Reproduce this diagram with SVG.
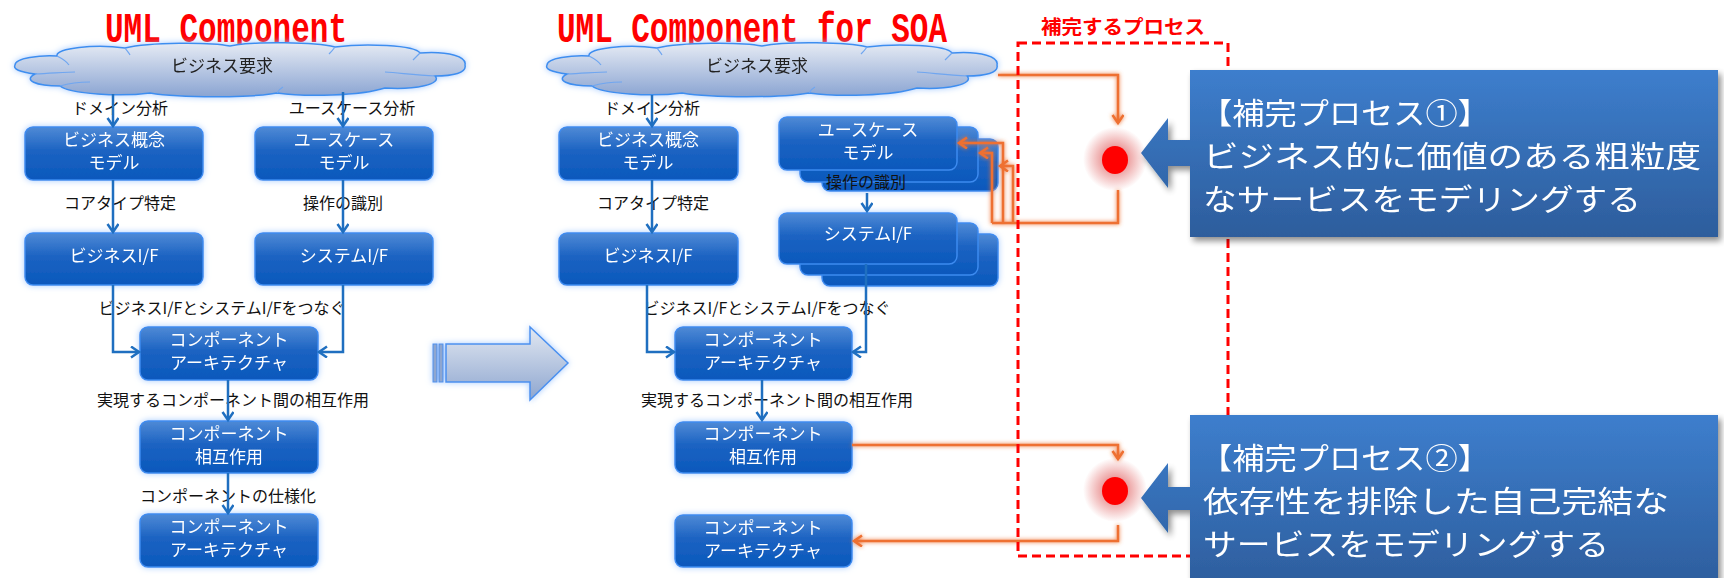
<svg xmlns="http://www.w3.org/2000/svg" xmlns:xlink="http://www.w3.org/1999/xlink" width="1724" height="578" viewBox="0 0 1724 578">
<defs>
<style>
.title{font-family:"Liberation Mono","DejaVu Sans Mono",monospace;font-weight:bold;font-size:31px;fill:#ff0000}
.bx{fill:url(#boxg);stroke:#3d8bf0;stroke-width:1.5}
.bt{font-family:"Noto Sans CJK JP","Noto Sans",sans-serif;font-size:17px;fill:#ffffff;text-anchor:middle}
.lb{font-family:"Noto Sans CJK JP","Noto Sans",sans-serif;font-size:16px;fill:#111111;text-anchor:middle}
.ct{font-family:"Noto Sans CJK JP","Noto Sans",sans-serif;font-size:17px;fill:#222222;text-anchor:middle}
.bl{fill:none;stroke:#1f6fc0;stroke-width:2.5}
.or{fill:none;stroke:#ee7030;stroke-width:2.5}
.cl{fill:url(#cloudg);stroke:#3d8ef0;stroke-width:1.5}
.cli{fill:none;stroke:#6fa6f0;stroke-width:1.2}
.co{font-family:"Noto Sans CJK JP","Noto Sans",sans-serif;font-size:29.5px;fill:#ffffff}
.cob{fill:url(#calg)}
</style>
<linearGradient id="boxg" x1="0" y1="0" x2="0" y2="1">
<stop offset="0" stop-color="#4f8ad6"/>
<stop offset="0.45" stop-color="#1c63c2"/>
<stop offset="1" stop-color="#0a58bc"/>
</linearGradient>
<linearGradient id="cloudg" x1="0" y1="0" x2="0" y2="1">
<stop offset="0" stop-color="#e6ebf4"/>
<stop offset="1" stop-color="#8aa4d2"/>
</linearGradient>
<linearGradient id="arrg" x1="0" y1="0" x2="0" y2="1">
<stop offset="0" stop-color="#e2e8f2"/>
<stop offset="1" stop-color="#8ea6cf"/>
</linearGradient>
<linearGradient id="calg" x1="0" y1="0" x2="0" y2="1">
<stop offset="0" stop-color="#3d7ecd"/>
<stop offset="1" stop-color="#2d5d9c"/>
</linearGradient>
<radialGradient id="dotglow">
<stop offset="0.3" stop-color="#e06060" stop-opacity="0.7"/>
<stop offset="1" stop-color="#e06060" stop-opacity="0"/>
</radialGradient>
<filter id="glow" x="-15%" y="-30%" width="130%" height="160%">
<feGaussianBlur in="SourceAlpha" stdDeviation="3" result="b"/>
<feFlood flood-color="#9cc6ff" flood-opacity="0.9"/>
<feComposite in2="b" operator="in" result="g"/>
<feMerge><feMergeNode in="g"/><feMergeNode in="SourceGraphic"/></feMerge>
</filter>
<filter id="oglow" x="-20%" y="-20%" width="140%" height="140%">
<feGaussianBlur in="SourceGraphic" stdDeviation="2" result="b"/>
<feMerge><feMergeNode in="b"/><feMergeNode in="SourceGraphic"/></feMerge>
</filter>
<filter id="shadow" x="-5%" y="-10%" width="115%" height="130%">
<feGaussianBlur in="SourceAlpha" stdDeviation="3" result="b"/>
<feOffset dx="3" dy="4" result="o"/>
<feComponentTransfer><feFuncA type="linear" slope="0.45"/></feComponentTransfer>
<feMerge><feMergeNode/><feMergeNode in="SourceGraphic"/></feMerge>
</filter>
<marker id="ab" markerUnits="userSpaceOnUse" markerWidth="14" markerHeight="14" refX="9" refY="6" orient="auto">
<path d="M1,0.5 L9,6 L1,11.5" fill="none" stroke="#1f6fc0" stroke-width="2.5"/>
</marker>
<marker id="ao" markerUnits="userSpaceOnUse" markerWidth="14" markerHeight="14" refX="9" refY="6" orient="auto">
<path d="M1,0.5 L9,6 L1,11.5" fill="none" stroke="#ee7030" stroke-width="2.5"/>
</marker>
<g id="cloudshape">
<path class="cl" d="M0,20 C0,13 25,10 42,11 C40,3 80,-1 110,3 C135,-3 195,-3 215,1 C240,-4 300,-3 320,2 C350,-2 400,0 405,8 C435,6 452,12 450,20 C452,28 438,31 420,31 C428,39 400,45 370,43 C345,51 290,52 262,48 C235,53 165,53 135,48 C105,52 55,49 45,41 C20,41 8,35 20,29 C4,27 -2,24 0,20 Z"/>
<path class="cli" d="M42,11 C48,14 52,17 54,20 M20,29 C40,28 55,27 60,27 M110,3 C112,6 114,8 115,10 M320,2 C318,5 316,7 314,9 M405,8 C402,11 400,13 398,15 M420,31 C400,30 385,28 370,27 M45,41 C55,38 65,37 75,37 M262,48 C264,45 266,43 268,42"/>
</g>
</defs>

<rect width="1724" height="578" fill="#ffffff"/>

<!-- titles -->
<text class="title" transform="translate(105,42) scale(1,1.4)" x="0" y="0" textLength="242" lengthAdjust="spacingAndGlyphs">UML Component</text>
<text class="title" transform="translate(557,42) scale(1,1.4)" x="0" y="0" textLength="390" lengthAdjust="spacingAndGlyphs">UML Component for SOA</text>

<!-- left diagram -->
<g id="cloud1" filter="url(#glow)">
<use xlink:href="#cloudshape" transform="translate(15,45)"/>
<text class="ct" x="222" y="72">ビジネス要求</text>
</g>
<g id="lbl-domain1"><text class="lb" x="120" y="114">ドメイン分析</text></g>
<g id="lbl-usecase1"><text class="lb" x="352" y="114">ユースケース分析</text></g>
<g id="bizconcept1" filter="url(#glow)">
<rect class="bx" x="25" y="127" width="178" height="53" rx="8"/>
<text class="bt" x="114" y="146">ビジネス概念</text>
<text class="bt" x="114" y="169">モデル</text>
</g>
<g id="usecase1" filter="url(#glow)">
<rect class="bx" x="255" y="127" width="178" height="53" rx="8"/>
<text class="bt" x="344" y="146">ユースケース</text>
<text class="bt" x="344" y="169">モデル</text>
</g>
<g id="lbl-core1"><text class="lb" x="120" y="209">コアタイプ特定</text></g>
<g id="lbl-op1"><text class="lb" x="343" y="209">操作の識別</text></g>
<g id="bizif1" filter="url(#glow)">
<rect class="bx" x="25" y="233" width="178" height="52" rx="8"/>
<text class="bt" x="114" y="262">ビジネスI/F</text>
</g>
<g id="sysif1" filter="url(#glow)">
<rect class="bx" x="255" y="233" width="178" height="52" rx="8"/>
<text class="bt" x="344" y="262">システムI/F</text>
</g>
<g id="lbl-connect1"><text class="lb" x="222" y="314">ビジネスI/FとシステムI/Fをつなぐ</text></g>
<g id="comparch1" filter="url(#glow)">
<rect class="bx" x="140" y="327" width="178" height="53" rx="8"/>
<text class="bt" x="229" y="346">コンポーネント</text>
<text class="bt" x="229" y="369">アーキテクチャ</text>
</g>
<g id="lbl-interact1"><text class="lb" x="233" y="406">実現するコンポーネント間の相互作用</text></g>
<g id="compint1" filter="url(#glow)">
<rect class="bx" x="140" y="421" width="178" height="52" rx="8"/>
<text class="bt" x="229" y="440">コンポーネント</text>
<text class="bt" x="229" y="463">相互作用</text>
</g>
<g id="lbl-spec1"><text class="lb" x="228" y="502">コンポーネントの仕様化</text></g>
<g id="comparch1b" filter="url(#glow)">
<rect class="bx" x="140" y="514" width="178" height="53" rx="8"/>
<text class="bt" x="229" y="533">コンポーネント</text>
<text class="bt" x="229" y="556">アーキテクチャ</text>
</g>

<!-- big arrow -->
<g id="bigarrow" filter="url(#glow)">
<path d="M446,344 H530 V327 L568,363 L530,400 V382 H446 Z" fill="url(#arrg)" stroke="#4a90f0" stroke-width="1.5"/>
<rect x="433" y="344" width="4" height="38" fill="#8ea6cf" stroke="#4a90f0" stroke-width="1"/>
<rect x="439" y="344" width="4" height="38" fill="#8ea6cf" stroke="#4a90f0" stroke-width="1"/>
</g>

<!-- SOA diagram -->
<g id="cloud2" filter="url(#glow)">
<use xlink:href="#cloudshape" transform="translate(547,45)"/>
<text class="ct" x="757" y="72">ビジネス要求</text>
</g>
<g id="lbl-domain2"><text class="lb" x="652" y="114">ドメイン分析</text></g>
<g id="bizconcept2" filter="url(#glow)">
<rect class="bx" x="559" y="127" width="179" height="53" rx="8"/>
<text class="bt" x="648" y="146">ビジネス概念</text>
<text class="bt" x="648" y="169">モデル</text>
</g>
<g id="usecase2" filter="url(#glow)">
<rect class="bx" x="822" y="139" width="176" height="52" rx="8"/>
<rect class="bx" x="800" y="127" width="178" height="55" rx="8"/>
<rect class="bx" x="779" y="117" width="178" height="53" rx="8"/>
<text class="bt" x="868" y="136">ユースケース</text>
<text class="bt" x="868" y="159">モデル</text>
</g>
<g id="lbl-core2"><text class="lb" x="653" y="209">コアタイプ特定</text></g>
<g id="bizif2" filter="url(#glow)">
<rect class="bx" x="559" y="233" width="179" height="52" rx="8"/>
<text class="bt" x="648" y="262">ビジネスI/F</text>
</g>
<g id="sysif2" filter="url(#glow)">
<rect class="bx" x="822" y="234" width="176" height="52" rx="8"/>
<rect class="bx" x="800" y="223" width="178" height="52" rx="8"/>
<rect class="bx" x="779" y="213" width="178" height="51" rx="8"/>
<text class="bt" x="868" y="240">システムI/F</text>
</g>
<g id="lbl-op2"><text class="lb" x="866" y="188">操作の識別</text></g>
<g id="lbl-connect2"><text class="lb" x="767" y="314">ビジネスI/FとシステムI/Fをつなぐ</text></g>
<g id="comparch2" filter="url(#glow)">
<rect class="bx" x="675" y="327" width="177" height="53" rx="8"/>
<text class="bt" x="763" y="346">コンポーネント</text>
<text class="bt" x="763" y="369">アーキテクチャ</text>
</g>
<g id="lbl-interact2"><text class="lb" x="777" y="406">実現するコンポーネント間の相互作用</text></g>
<g id="compint2" filter="url(#glow)">
<rect class="bx" x="675" y="422" width="177" height="51" rx="8"/>
<text class="bt" x="763" y="440">コンポーネント</text>
<text class="bt" x="763" y="463">相互作用</text>
</g>
<g id="comparch2b" filter="url(#glow)">
<rect class="bx" x="675" y="515" width="177" height="52" rx="8"/>
<text class="bt" x="763" y="534">コンポーネント</text>
<text class="bt" x="763" y="557">アーキテクチャ</text>
</g>

<!-- connectors -->
<g id="connectors">
<g id="blue-connectors">
<path class="bl" marker-end="url(#ab)" d="M113,94 V126"/>
<path class="bl" marker-end="url(#ab)" d="M343,92 V126"/>
<path class="bl" marker-end="url(#ab)" d="M113,180 V232"/>
<path class="bl" marker-end="url(#ab)" d="M343,180 V232"/>
<path class="bl" marker-end="url(#ab)" d="M113,285 V352 H139"/>
<path class="bl" marker-end="url(#ab)" d="M343,285 V352 H319"/>
<path class="bl" marker-end="url(#ab)" d="M228,380 V420"/>
<path class="bl" marker-end="url(#ab)" d="M228,473 V513"/>
<path class="bl" marker-end="url(#ab)" d="M652,95 V126"/>
<path class="bl" marker-end="url(#ab)" d="M652,180 V232"/>
<path class="bl" marker-end="url(#ab)" d="M867,193 V211"/>
<path class="bl" marker-end="url(#ab)" d="M647,285 V352 H674"/>
<path class="bl" marker-end="url(#ab)" d="M866,264 V352 H853"/>
<path class="bl" marker-end="url(#ab)" d="M762,380 V420"/>
</g>
<g id="orange-connectors" filter="url(#oglow)">
<path class="or" marker-end="url(#ao)" d="M998,75 H1118 V123"/>
<path class="or" d="M1118,190 V223 H992"/>
<path class="or" marker-end="url(#ao)" d="M1003,223 V143 H959"/>
<path class="or" marker-end="url(#ao)" d="M992,223 V153 H980"/>
<path class="or" marker-end="url(#ao)" d="M1013,223 V166 H1000"/>
<path class="or" marker-end="url(#ao)" d="M852,445 H1118 V459"/>
<path class="or" marker-end="url(#ao)" d="M1118,525 V541 H854"/>
</g>
</g>

<!-- complement process frame -->
<g id="process-frame">
<rect x="1018" y="43" width="210" height="513" fill="none" stroke="#ff0000" stroke-width="3" stroke-dasharray="9,5"/>
<text x="1041" y="34" font-family="Noto Sans CJK JP, sans-serif" font-weight="bold" font-size="19" fill="#ff0000" textLength="164" lengthAdjust="spacingAndGlyphs">補完するプロセス</text>
</g>

<g id="dot1">
<circle cx="1115" cy="159" r="32" fill="url(#dotglow)"/>
<ellipse cx="1115" cy="160" rx="13" ry="14" fill="#ff0000"/>
</g>
<g id="dot2">
<circle cx="1115" cy="490" r="32" fill="url(#dotglow)"/>
<ellipse cx="1115" cy="491" rx="13" ry="14" fill="#ff0000"/>
</g>

<!-- callouts -->
<g id="callout1" filter="url(#shadow)">
<path class="cob" d="M1190,70 H1718 V237 H1190 V166 H1168 V188 L1141,153 L1168,118 V140 H1190 Z"/>
<text class="co" x="1200" y="124" textLength="290" lengthAdjust="spacingAndGlyphs">【補完プロセス①】</text>
<text class="co" x="1203" y="167" textLength="498" lengthAdjust="spacingAndGlyphs">ビジネス的に価値のある粗粒度</text>
<text class="co" x="1203" y="210" textLength="438" lengthAdjust="spacingAndGlyphs">なサービスをモデリングする</text>
</g>
<g id="callout2" filter="url(#shadow)">
<path class="cob" d="M1190,415 H1718 V590 H1190 V510 H1168 V533 L1141,498 L1168,463 V487 H1190 Z"/>
<text class="co" x="1200" y="469" textLength="290" lengthAdjust="spacingAndGlyphs">【補完プロセス②】</text>
<text class="co" x="1203" y="512" textLength="466" lengthAdjust="spacingAndGlyphs">依存性を排除した自己完結な</text>
<text class="co" x="1203" y="555" textLength="406" lengthAdjust="spacingAndGlyphs">サービスをモデリングする</text>
</g>
</svg>
